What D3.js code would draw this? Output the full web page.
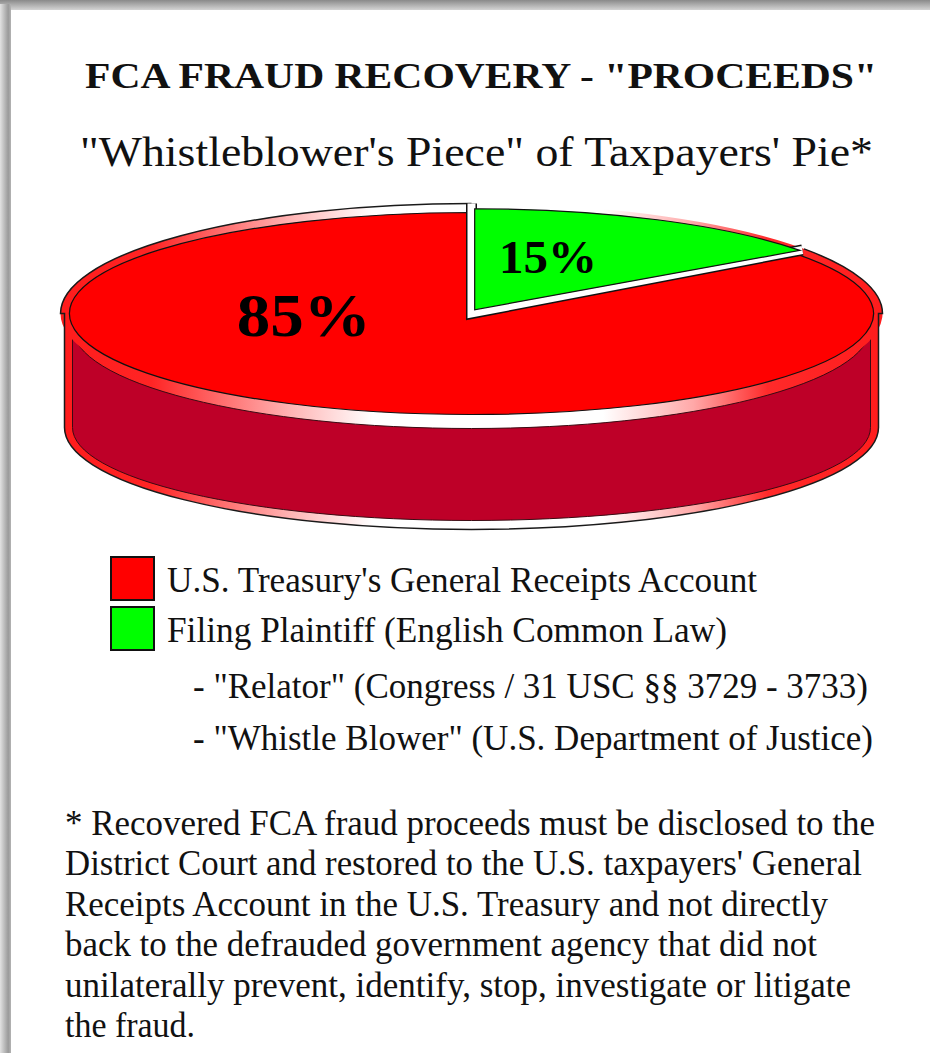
<!DOCTYPE html>
<html>
<head>
<meta charset="utf-8">
<script src="https://cdn.jsdelivr.net/npm/d3@7"></script>
<style>
  html, body { margin: 0; padding: 0; background: #fff; }
  svg { display: block; }
  svg text { font-family: 'Liberation Serif', Tinos, 'Times New Roman', Times, serif; }
</style>
</head>
<body>
<div id="chart"></div>
<script>
// Chart content
const titleText = 'FCA FRAUD RECOVERY - "PROCEEDS"'
const subtitleText = '"Whistleblower\'s Piece" of Taxpayers\' Pie*'
const categories = ["U.S. Treasury's General Receipts Account", 'Filing Plaintiff (English Common Law)']
const shares = [85, 15]
const sliceLabels = ['85%', '15%']
const subNotes = ['- "Relator" (Congress / 31 USC §§ 3729 - 3733)', '- "Whistle Blower" (U.S. Department of Justice)']
const footnoteLines = [
  '* Recovered FCA fraud proceeds must be disclosed to the',
  'District Court and restored to the U.S. taxpayers\' General',
  'Receipts Account in the U.S. Treasury and not directly',
  'back to the defrauded government agency that did not',
  'unilaterally prevent, identify, stop, investigate or litigate',
  'the fraud.'
]

const width = 930
const height = 1053
const colors = ['#ff0000', '#00ff00']
const sideColor = '#be0028'

const svg = d3.select('#chart')
  .append('svg')
  .attr('width', width)
  .attr('height', height)

const defs = svg.append('defs')

// Frame shadow (top and left edges)
const gTop = defs.append('linearGradient').attr('id', 'frameTop')
  .attr('x1', 0).attr('y1', 0).attr('x2', 0).attr('y2', 1)
gTop.append('stop').attr('offset', 0).attr('stop-color', '#8a8a8a')
gTop.append('stop').attr('offset', 1).attr('stop-color', '#d4d4d4')
const gLeft = defs.append('linearGradient').attr('id', 'frameLeft')
  .attr('x1', 0).attr('y1', 0).attr('x2', 1).attr('y2', 0)
gLeft.append('stop').attr('offset', 0).attr('stop-color', '#e2e2e2')
gLeft.append('stop').attr('offset', 0.75).attr('stop-color', '#9a9a9a')
gLeft.append('stop').attr('offset', 1).attr('stop-color', '#b4b4b4')

svg.append('rect').attr('x', 0).attr('y', 0).attr('width', width).attr('height', 10).attr('fill', 'url(#frameTop)')
svg.append('rect').attr('x', 0).attr('y', 4).attr('width', 11).attr('height', height - 4).attr('fill', 'url(#frameLeft)')

// Pie geometry (elliptical 3D pie)
const pie3d = {cx: 471.5, cy: 313.5, rx: 402, ry: 101, rimX: 411, rimY: 110, sideX: 407, depth: 114, bottomRy: 102, inset: 8, explode: 7}

// Rim highlight gradient
const rim = defs.append('linearGradient').attr('id', 'rimGrad')
  .attr('gradientUnits', 'userSpaceOnUse')
  .attr('x1', pie3d.cx - pie3d.rimX).attr('y1', 0)
  .attr('x2', pie3d.cx + pie3d.rimX).attr('y2', 0)
const rimStops = [[0, '#ff1c1c'], [0.11, '#ff2424'], [0.28, '#ffb4b4'], [0.38, '#ffffff'], [0.66, '#ffffff'], [0.77, '#ffa8a8'], [0.86, '#ff2a2a'], [1, '#ff1c1c']]
rimStops.forEach(s => rim.append('stop').attr('offset', s[0]).attr('stop-color', s[1]))

function ept(a, rx, ry, cx = pie3d.cx, cy = pie3d.cy) {
  return [cx + rx * Math.sin(a), cy - ry * Math.cos(a)]
}
function slicePath(a0, a1, rx, ry, cx, cy) {
  const p0 = ept(a0, rx, ry, cx, cy)
  const p1 = ept(a1, rx, ry, cx, cy)
  const large = (a1 - a0) > Math.PI ? 1 : 0
  return `M${cx},${cy}L${p0}A${rx},${ry} 0 ${large} 1 ${p1}Z`
}
function ringPath(a0, a1) {
  const {rx, ry, rimX, rimY} = pie3d
  const large = (a1 - a0) > Math.PI ? 1 : 0
  return `M${ept(a0, rimX, rimY)}A${rimX},${rimY} 0 ${large} 1 ${ept(a1, rimX, rimY)}` +
    `L${ept(a1, rx, ry)}A${rx},${ry} 0 ${large} 0 ${ept(a0, rx, ry)}Z`
}

// Angles from d3.pie (red starts after the green wedge at 12 o'clock)
const arcs = d3.pie().sort(null)
  .startAngle(2 * Math.PI * shares[1] / d3.sum(shares))
  .endAngle(2 * Math.PI * (1 + shares[1] / d3.sum(shares)))(shares)

const gPie = svg.append('g')
const {cx, cy, rx, ry, rimX, rimY, sideX, depth, bottomRy, inset} = pie3d

// Silhouette body (rim band + side band)
gPie.append('path')
  .attr('d', `M${cx - rimX},${cy}A${rimX},${rimY} 0 0 1 ${cx + rimX},${cy}L${cx + sideX},${cy}L${cx + sideX},${cy + depth}` +
    `A${sideX},${bottomRy} 0 0 1 ${cx - sideX},${cy + depth}L${cx - sideX},${cy}Z`)
  .attr('fill', 'url(#rimGrad)')

// Dark side wall
const dX = sideX - inset
gPie.append('path')
  .attr('d', `M${cx - dX},${cy + 14}A${dX},${ry} 0 0 0 ${cx + dX},${cy + 14}L${cx + dX},${cy + depth}` +
    `A${dX},${bottomRy - 9} 0 0 1 ${cx - dX},${cy + depth}Z`)
  .attr('fill', sideColor)
  .attr('stroke', '#3a0a12')
  .attr('stroke-width', 1)

// Rim around the red slice only
const red = arcs[0]
gPie.append('path')
  .attr('d', ringPath(red.startAngle, red.endAngle))
  .attr('fill', 'url(#rimGrad)')

// Outer outline
const pStart = ept(red.startAngle, rimX, rimY)
gPie.append('path')
  .attr('d', `M${pStart}A${rimX},${rimY} 0 0 1 ${cx + rimX},${cy}L${cx + sideX},${cy}L${cx + sideX},${cy + depth}` +
    `A${sideX},${bottomRy} 0 0 1 ${cx - sideX},${cy + depth}L${cx - sideX},${cy}L${cx - rimX},${cy}` +
    `A${rimX},${rimY} 0 0 1 ${cx},${cy - rimY}`)
  .attr('fill', 'none')
  .attr('stroke', '#1a1a1a')
  .attr('stroke-width', 1.5)

// Red slice face
gPie.append('path')
  .attr('d', slicePath(red.startAngle, red.endAngle, rx, ry, cx, cy))
  .attr('fill', colors[0])
  .attr('stroke', '#111')
  .attr('stroke-width', 1.2)

// White border along the cut edges of the red slice
const cutLine = `M${ept(red.startAngle, rimX - 2, rimY - 2)}L${cx},${cy}L${ept(red.endAngle, rimX, rimY)}`
gPie.append('path').attr('d', cutLine).attr('fill', 'none')
  .attr('stroke', '#111').attr('stroke-width', 11).attr('stroke-linejoin', 'miter')
gPie.append('path').attr('d', cutLine).attr('fill', 'none')
  .attr('stroke', '#fff').attr('stroke-width', 8).attr('stroke-linejoin', 'miter')

// Exploded green slice
const green = arcs[1]
const gMid = (green.startAngle + green.endAngle) / 2
const gx = cx + pie3d.explode * Math.sin(gMid)
const gy = cy - pie3d.explode * Math.cos(gMid) * 0.6
gPie.append('path')
  .attr('d', slicePath(green.startAngle, green.endAngle, rx, ry, gx, gy))
  .attr('fill', colors[1])
  .attr('stroke', '#111')
  .attr('stroke-width', 1.2)

// Slice labels
const labelSpots = [{angle: 270, frac: 0.417, size: 62, fit: 134, ox: cx, oy: cy}, {angle: 19, frac: 0.56, size: 46, fit: 98, ox: gx, oy: gy}]
arcs.forEach((a, i) => {
  const s = labelSpots[i]
  const p = ept(s.angle * Math.PI / 180, rx * s.frac, ry * s.frac, s.ox, s.oy)
  svg.append('text')
    .attr('x', p[0] - s.fit / 2).attr('y', p[1] + s.size * 0.36)
    .attr('textLength', s.fit)
    .attr('lengthAdjust', 'spacingAndGlyphs')
    .attr('font-weight', 'bold')
    .attr('font-size', s.size)
    .text(sliceLabels[i])
})

// Titles
function addText(str, x, y, size, fitWidth, weight) {
  return svg.append('text')
    .attr('x', x).attr('y', y)
    .attr('textLength', fitWidth)
    .attr('lengthAdjust', 'spacingAndGlyphs')
    .attr('font-size', size)
    .attr('font-weight', weight || 'normal')
    .attr('fill', '#111')
    .text(str)
}
addText(titleText, 85, 88, 36, 792, 'bold')
addText(subtitleText, 80, 166, 42, 793)

// Legend
const legendY = [557, 607]
const legendFit = [590, 560]
categories.forEach((c, i) => {
  svg.append('rect')
    .attr('x', 111).attr('y', legendY[i])
    .attr('width', 43).attr('height', 43)
    .attr('fill', colors[i])
    .attr('stroke', '#111')
    .attr('stroke-width', 2)
  addText(c, 167, legendY[i] + 35, 35, legendFit[i])
})
const noteFit = [675, 680]
subNotes.forEach((n, i) => addText(n, 193, 698 + i * 52, 35, noteFit[i]))

// Footnote
const footFit = [810, 797, 763, 752, 786, 130]
footnoteLines.forEach((l, i) => addText(l, 65, 835 + i * 40.4, 35, footFit[i]))
</script>
</body>
</html>
